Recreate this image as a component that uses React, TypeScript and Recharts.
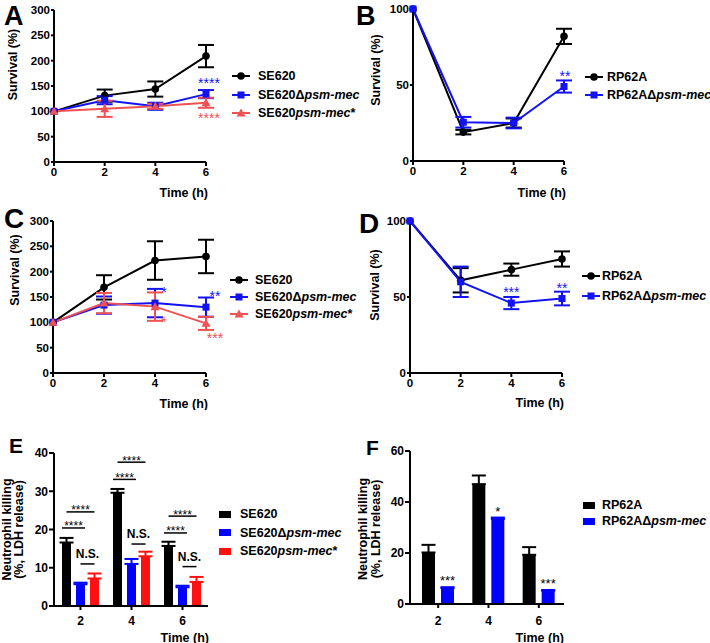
import React from "react";
import { LineChart, Line, BarChart, Bar, XAxis, YAxis, ErrorBar, LabelList, Legend } from "recharts";

const FONT = "'Liberation Sans', Arial, Helvetica, sans-serif";
const BLACK = "#000000";
const BLUE = "#1212f2";
const PINK = "#ef5252";
const RED = "#ff1111";

const hours = [0, 2, 4, 6];

// A: SE620 survival
const aWt = [100, 131, 144, 209];
const aWtErr = [0, 12, 15, 22];
const aDel = [100, 122, 110, 134];
const aDelErr = [0, 8, 7, 8];
const aComp = [100, 105, 110, 117];
const aCompErr = [0, 16, 5, 10];
const aDelSig = ["", "", "", "****"];
const aCompSig = ["", "", "", "****"];

// B: RP62A survival
const bWt = [100, 19, 25, 82];
const bWtErr = [0, 1.5, 3, 5];
const bDel = [100, 25.5, 25, 49];
const bDelErr = [0, 3.5, 3.5, 4];
const bDelSig = ["", "", "", "**"];

// C: SE620 survival (second experiment)
const cWt = [100, 169, 222, 230];
const cWtErr = [0, 24, 38, 33];
const cDel = [100, 134, 138, 130];
const cDelErr = [0, 17, 28, 19];
const cComp = [100, 138, 131, 98];
const cCompErr = [0, 20, 28, 13];
const cDelSig = ["", "", "*", "**"];
const cCompSig = ["", "", "*", "***"];

// D: RP62A survival (second experiment)
const dWt = [100, 61, 68, 75];
const dWtErr = [0, 8, 4, 5];
const dDel = [100, 60, 46, 49];
const dDelErr = [0, 10, 4, 4.5];
const dDelSig = ["", "", "***", "**"];

// E: neutrophil killing, SE620
const barTimes = ["2", "4", "6"];
const eWt = [16.6, 29.6, 15.7];
const eWtErr = [1.2, 1.0, 1.1];
const eDel = [5.7, 11, 4.9];
const eDelErr = [0.4, 1.3, 0.4];
const eComp = [7.2, 13, 6.3];
const eCompErr = [1.3, 1.2, 1.3];
// comparisons per time point: bar index from/to, height in % units
const eBrackets = [
  [
    { from: 0, to: 1, at: 20.4, text: "****", wide: true },
    { from: 0, to: 2, at: 24.6, text: "****" },
    { from: 1, to: 2, at: 11.0, text: "N.S." },
  ],
  [
    { from: 0, to: 1, at: 33.1, text: "****", wide: true },
    { from: 0, to: 2, at: 37.6, text: "****" },
    { from: 1, to: 2, at: 16.2, text: "N.S." },
  ],
  [
    { from: 0, to: 1, at: 19.1, text: "****", wide: true },
    { from: 0, to: 2, at: 23.5, text: "****" },
    { from: 1, to: 2, at: 10.3, text: "N.S." },
  ],
];

// F: neutrophil killing, RP62A
const fWt = [20.2, 47, 19.3];
const fWtErr = [3, 3.4, 3];
const fDel = [6.2, 33.3, 5.2];
const fDelErr = [0.4, 0.6, 0.3];
const fDelSig = ["***", "*", "***"];

type Shape = "circle" | "square" | "triangle";

const drawShape = (shape: Shape, color: string, cx: number, cy: number, key?: any) => {
  if (shape === "circle") return <circle key={key} cx={cx} cy={cy} r={3.8} fill={color} />;
  if (shape === "square") return <rect key={key} x={cx - 3.5} y={cy - 3.5} width={7} height={7} fill={color} />;
  return <polygon key={key} points={`${cx},${cy - 4.5} ${cx - 4.5},${cy + 3.5} ${cx + 4.5},${cy + 3.5}`} fill={color} />;
};

const marker = (shape: Shape, color: string) => (p: any) => {
  if (p.cx == null || p.cy == null) return <g key={p.index} />;
  return drawShape(shape, color, p.cx, p.cy, p.index);
};

const AX = { stroke: "#000", strokeWidth: 2 };

const sigText = (color: string, side: "up" | "down", dx: number) => (p: any) => {
  if (!p.value) return null;
  const x = (p.x ?? p.viewBox?.x) + dx;
  const y = (p.y ?? p.viewBox?.y) + (side === "up" ? -6 : 20);
  return (
    <text x={x} y={y} textAnchor="middle" fill={color} fontSize={14} fontFamily={FONT}>
      {p.value}
    </text>
  );
};

const timeTitle = (dy: number, dx: number) => (p: any) => {
  const vb = p.viewBox;
  return (
    <text x={vb.x + vb.width + dx} y={vb.y + dy} textAnchor="end" fontFamily={FONT} fontWeight={700} fontSize={12.5} fill="#000">
      Time (h)
    </text>
  );
};

const yTitle = (lines: string[], xs: number[], dy: number) => (p: any) => {
  const vb = p.viewBox;
  const cy = vb.y + dy;
  return (
    <g>
      {lines.map((s, i) => {
        const x = vb.x + xs[i];
        return (
          <text key={i} x={x} y={cy} transform={`rotate(-90 ${x} ${cy})`} textAnchor="middle" dominantBaseline="central"
            fontFamily={FONT} fontWeight={700} fontSize={12.5} fill="#000">
            {s}
          </text>
        );
      })}
    </g>
  );
};

type Item = { label: React.ReactNode; color: string; shape?: Shape };

const KeyBox = ({ items, rowH, gap, bars }: { items: Item[]; rowH: number; gap: number; bars?: boolean }) => (
  <div style={{ fontFamily: FONT, fontWeight: 700, fontSize: 12.5, color: "#000", whiteSpace: "nowrap" }}>
    {items.map((it, i) => (
      <div key={i} style={{ display: "flex", alignItems: "center", height: rowH }}>
        {bars ? (
          <svg width={12} height={7} style={{ marginRight: gap }}>
            <rect x={0} y={0} width={12} height={7} fill={it.color} />
          </svg>
        ) : (
          <svg width={18} height={10} style={{ marginRight: gap }}>
            <line x1={0} x2={18} y1={5} y2={5} stroke={it.color} strokeWidth={2} />
            {drawShape(it.shape || "circle", it.color, 9, 5)}
          </svg>
        )}
        <span>{it.label}</span>
      </div>
    ))}
  </div>
);

const se620 = "SE620";
const se620Del = <>SE620Δ<i>psm-mec</i></>;
const se620Comp = <>SE620<i>psm-mec</i>*</>;
const rp62a = "RP62A";
const rp62aDel = <>RP62AΔ<i>psm-mec</i></>;

type SeriesCfg = { vals: number[]; errs: number[]; color: string; shape: Shape; label: React.ReactNode; sig?: string[]; side?: "up" | "down" };

type SurvProps = {
  left: number; top: number; height: number;
  yWidth: number; right: number; mTop: number; mBottom: number; xHeight: number;
  yMax: number; yTicks: number[];
  series: SeriesCfg[];
  sigDx: number;
  legendLeft: number; legendTop: number; rowH: number; gap: number;
  timeDy: number; yt: { xs: number[]; dy: number };
};

const SurvivalPanel = (cfg: SurvProps) => {
  const rows = hours.map((t, i) => {
    const r: any = { t };
    cfg.series.forEach((s, k) => {
      r["v" + k] = s.vals[i];
      r["e" + k] = s.errs[i];
      r["s" + k] = s.sig ? s.sig[i] : "";
    });
    return r;
  });
  return (
    <div style={{ position: "absolute", left: cfg.left, top: cfg.top }}>
      <LineChart width={355} height={cfg.height} data={rows}
        margin={{ top: cfg.mTop, right: cfg.right, left: 0, bottom: cfg.mBottom }}>
        <XAxis type="number" dataKey="t" domain={[0, 6]} ticks={hours} height={cfg.xHeight}
          axisLine={AX} tickLine={AX} tickSize={4} tickMargin={2}
          tick={{ fill: "#000", fontSize: 11.5, fontWeight: 700, fontFamily: FONT }}
          label={timeTitle(cfg.timeDy, 2)} />
        <YAxis type="number" domain={[0, cfg.yMax]} ticks={cfg.yTicks} width={cfg.yWidth}
          axisLine={AX} tickLine={AX} tickSize={3} tickMargin={1}
          tick={{ fill: "#000", fontSize: 11.5, fontWeight: 700, fontFamily: FONT }}
          label={yTitle(["Survival (%)"], cfg.yt.xs, cfg.yt.dy)} />
        {cfg.series.map((s, k) => (
          <Line key={k} dataKey={"v" + k} stroke={s.color} strokeWidth={2} dot={marker(s.shape, s.color)}
            activeDot={false} isAnimationActive={false}>
            <ErrorBar dataKey={"e" + k} width={8} stroke={s.color} strokeWidth={2} />
            {s.sig && <LabelList dataKey={"s" + k} content={sigText(s.color, s.side || "up", cfg.sigDx)} />}
          </Line>
        ))}
        <Legend layout="vertical" align="center" verticalAlign="middle"
          wrapperStyle={{ left: cfg.legendLeft, top: cfg.legendTop, width: "auto" }}
          content={() => <KeyBox items={cfg.series.map((s) => ({ label: s.label, color: s.color, shape: s.shape }))} rowH={cfg.rowH} gap={cfg.gap} />} />
      </LineChart>
    </div>
  );
};

const bracketLayer = (groups: typeof eBrackets, gap: number) => (p: any) => {
  const x = p.x ?? p.viewBox?.x;
  const y = p.y ?? p.viewBox?.y;
  const w = p.width ?? p.viewBox?.width;
  const h = p.height ?? p.viewBox?.height;
  const list = groups[p.index];
  if (!list || !p.value) return null;
  const base = y + h;
  const per = h / p.value;
  const center = (k: number) => x + w / 2 + k * (w + gap);
  return (
    <g>
      {list.map((b: any, j: number) => {
        const ly = base - b.at * per;
        const x1 = center(b.from) - (b.wide ? w / 2 : 0);
        const x2 = center(b.to) + (b.wide ? w / 2 : 0);
        const ns = b.text === "N.S.";
        return (
          <g key={j}>
            <line x1={x1} x2={x2} y1={ly} y2={ly} stroke="#000" strokeWidth={1.5} />
            <text x={(x1 + x2) / 2} y={ns ? ly - 6 : ly + 2.5} textAnchor="middle" fontFamily={FONT}
              fontWeight={ns ? 700 : 400} fontSize={12} fill="#000">
              {b.text}
            </text>
          </g>
        );
      })}
    </g>
  );
};

const barSig = (p: any) => {
  if (!p.value) return null;
  const x = p.x ?? p.viewBox?.x;
  const y = p.y ?? p.viewBox?.y;
  const w = p.width ?? p.viewBox?.width;
  return (
    <text x={x + w / 2} y={y - 3} textAnchor="middle" fontFamily={FONT} fontSize={13} fill="#000">
      {p.value}
    </text>
  );
};

const KillingE = () => {
  const rows = barTimes.map((t, i) => ({
    t, wt: eWt[i], wtErr: [0, eWtErr[i]], del: eDel[i], delErr: [0, eDelErr[i]], comp: eComp[i], compErr: [0, eCompErr[i]],
  }));
  return (
    <div style={{ position: "absolute", left: 0, top: 410 }}>
      <BarChart width={355} height={233} data={rows} margin={{ top: 43, right: 147, left: 0, bottom: 0 }} barSize={9} barGap={5}>
        <XAxis dataKey="t" height={37} padding={{ left: 1, right: 0 }} axisLine={AX} tickLine={AX} tickSize={4} tickMargin={6}
          tick={{ fill: "#000", fontSize: 12, fontWeight: 700, fontFamily: FONT }} label={timeTitle(35.5, 1)} />
        <YAxis type="number" domain={[0, 40]} ticks={[0, 10, 20, 30, 40]} width={54} axisLine={AX} tickLine={AX} tickSize={5} tickMargin={1}
          tick={{ fill: "#000", fontSize: 12, fontWeight: 700, fontFamily: FONT }}
          label={yTitle(["Neutrophil killing", "(%, LDH release)"], [7, 19], 76.5)} />
        <Bar dataKey="wt" fill={BLACK} isAnimationActive={false}>
          <ErrorBar dataKey="wtErr" width={7} stroke={BLACK} strokeWidth={2} />
          <LabelList dataKey="wt" content={bracketLayer(eBrackets, 5)} />
        </Bar>
        <Bar dataKey="del" fill="#0000ff" isAnimationActive={false}>
          <ErrorBar dataKey="delErr" width={7} stroke="#0000ff" strokeWidth={2} />
        </Bar>
        <Bar dataKey="comp" fill={RED} isAnimationActive={false}>
          <ErrorBar dataKey="compErr" width={7} stroke={RED} strokeWidth={2} />
        </Bar>
        <Legend layout="vertical" align="center" verticalAlign="middle"
          wrapperStyle={{ left: 219, top: 94.75, width: "auto" }}
          content={() => (
            <KeyBox bars rowH={18.5} gap={9} items={[
              { label: se620, color: BLACK }, { label: se620Del, color: "#0000ff" }, { label: se620Comp, color: RED },
            ]} />
          )} />
      </BarChart>
    </div>
  );
};

const KillingF = () => {
  const rows = barTimes.map((t, i) => ({
    t, wt: fWt[i], wtErr: [0, fWtErr[i]], del: fDel[i], delErr: [0, fDelErr[i]], sig: fDelSig[i],
  }));
  return (
    <div style={{ position: "absolute", left: 355, top: 410 }}>
      <BarChart width={355} height={233} data={rows} margin={{ top: 41, right: 146, left: 0, bottom: 0 }} barSize={13} barGap={6}>
        <XAxis dataKey="t" height={39} padding={{ left: 3, right: 0 }} axisLine={AX} tickLine={AX} tickSize={4} tickMargin={8}
          tick={{ fill: "#000", fontSize: 12, fontWeight: 700, fontFamily: FONT }} label={timeTitle(37.5, 0)} />
        <YAxis type="number" domain={[0, 60]} ticks={[0, 20, 40, 60]} width={55} axisLine={AX} tickLine={AX} tickSize={5} tickMargin={1}
          tick={{ fill: "#000", fontSize: 12, fontWeight: 700, fontFamily: FONT }}
          label={yTitle(["Neutrophil killing", "(%, LDH release)"], [8, 21], 78)} />
        <Bar dataKey="wt" fill={BLACK} isAnimationActive={false}>
          <ErrorBar dataKey="wtErr" width={7} stroke={BLACK} strokeWidth={2} />
        </Bar>
        <Bar dataKey="del" fill="#0000ff" isAnimationActive={false}>
          <ErrorBar dataKey="delErr" width={7} stroke="#0000ff" strokeWidth={2} />
          <LabelList dataKey="sig" content={barSig} />
        </Bar>
        <Legend layout="vertical" align="center" verticalAlign="middle"
          wrapperStyle={{ left: 228, top: 87, width: "auto" }}
          content={() => (
            <KeyBox bars rowH={16} gap={7} items={[{ label: rp62a, color: BLACK }, { label: rp62aDel, color: "#0000ff" }]} />
          )} />
      </BarChart>
    </div>
  );
};

const letters = [
  { t: "A", x: 4, y: 24.5, s: 27 },
  { t: "B", x: 356, y: 24.5, s: 27 },
  { t: "C", x: 4, y: 228, s: 28 },
  { t: "D", x: 359, y: 233, s: 28 },
  { t: "E", x: 9, y: 453, s: 21 },
  { t: "F", x: 366, y: 455, s: 21 },
];

export default function App() {
  return (
    <div style={{ position: "absolute", left: 0, top: 0, width: 710, height: 643, background: "#fff", overflow: "hidden" }}>
      <SurvivalPanel left={0} top={0} height={205} yWidth={54} right={149} mTop={10} mBottom={3} xHeight={40}
        yMax={300} yTicks={[0, 50, 100, 150, 200, 250, 300]} sigDx={3}
        series={[
          { vals: aWt, errs: aWtErr, color: BLACK, shape: "circle", label: se620 },
          { vals: aDel, errs: aDelErr, color: BLUE, shape: "square", label: se620Del, sig: aDelSig, side: "up" },
          { vals: aComp, errs: aCompErr, color: PINK, shape: "triangle", label: se620Comp, sig: aCompSig, side: "down" },
        ]}
        legendLeft={232} legendTop={66.75} rowH={18.5} gap={8} timeDy={34.5} yt={{ xs: [13], dy: 54.5 }} />
      <SurvivalPanel left={355} top={0} height={205} yWidth={58} right={146} mTop={9} mBottom={4} xHeight={40}
        yMax={100} yTicks={[0, 50, 100]} sigDx={1}
        series={[
          { vals: bWt, errs: bWtErr, color: BLACK, shape: "circle", label: rp62a },
          { vals: bDel, errs: bDelErr, color: BLUE, shape: "square", label: rp62aDel, sig: bDelSig, side: "up" },
        ]}
        legendLeft={230} legendTop={68} rowH={18} gap={4} timeDy={35.5} yt={{ xs: [21], dy: 61 }} />
      <SurvivalPanel left={0} top={200} height={210} yWidth={53} right={149} mTop={21} mBottom={0} xHeight={37}
        yMax={300} yTicks={[0, 50, 100, 150, 200, 250, 300]} sigDx={9}
        series={[
          { vals: cWt, errs: cWtErr, color: BLACK, shape: "circle", label: se620 },
          { vals: cDel, errs: cDelErr, color: BLUE, shape: "square", label: se620Del, sig: cDelSig, side: "up" },
          { vals: cComp, errs: cCompErr, color: PINK, shape: "triangle", label: se620Comp, sig: cCompSig, side: "down" },
        ]}
        legendLeft={230} legendTop={71.4} rowH={17.2} gap={7} timeDy={34.5} yt={{ xs: [15], dy: 49 }} />
      <SurvivalPanel left={355} top={200} height={210} yWidth={55} right={148} mTop={21} mBottom={0} xHeight={37}
        yMax={100} yTicks={[0, 50, 100]} sigDx={0}
        series={[
          { vals: dWt, errs: dWtErr, color: BLACK, shape: "circle", label: rp62a },
          { vals: dDel, errs: dDelErr, color: BLUE, shape: "square", label: rp62aDel, sig: dDelSig, side: "up" },
        ]}
        legendLeft={227} legendTop={66} rowH={20} gap={2} timeDy={33.5} yt={{ xs: [20], dy: 64 }} />
      <KillingE />
      <KillingF />
      <svg width={710} height={643} style={{ position: "absolute", left: 0, top: 0, pointerEvents: "none" }}>
        {letters.map((l) => (
          <text key={l.t} x={l.x} y={l.y} fontFamily={FONT} fontWeight={700} fontSize={l.s} fill="#000">{l.t}</text>
        ))}
      </svg>
    </div>
  );
}
